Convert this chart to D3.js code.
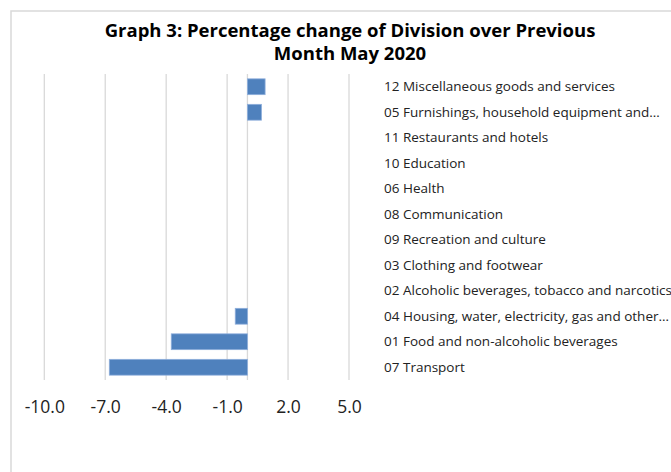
<!DOCTYPE html>
<html>
<head>
<meta charset="utf-8">
<script src="https://cdn.jsdelivr.net/npm/d3@7"></script>
<style>
    body { margin: 0; background: #fff; }
    svg { display: block; }
</style>
</head>
<body>
<div id="chart"></div>
<script>
// divisions, top to bottom as they appear in the chart
const divisions = [
    "12 Miscellaneous goods and services",
    "05 Furnishings, household equipment and\u2026",
    "11 Restaurants and hotels",
    "10 Education",
    "06 Health",
    "08 Communication",
    "09 Recreation and culture",
    "03 Clothing and footwear",
    "02 Alcoholic beverages, tobacco and narcotics",
    "04 Housing, water, electricity, gas and other\u2026",
    "01 Food and non-alcoholic beverages",
    "07 Transport"
];
// percentage change over previous month
const changes = [0.87, 0.69, 0, 0, 0, 0, 0, 0, 0, -0.6, -3.75, -6.8];
const xTicks = [-10, -7, -4, -1, 2, 5];
const titleLines = ["Graph 3: Percentage change of Division over Previous", "Month May 2020"];

const width = 671, height = 472;
const plot = {left: 44.3, right: 349, top: 74, bottom: 380};

const svg = d3.select("#chart").append("svg")
    .attr("width", width)
    .attr("height", height);

// chart frame
svg.append("rect")
    .attr("x", 11).attr("y", 11)
    .attr("width", width + 20).attr("height", height + 20)
    .attr("fill", "#fff")
    .attr("stroke", "#d9d9d9")
    .attr("stroke-width", 1.5);

// title
svg.append("g").selectAll("text")
    .data(titleLines)
    .join("text")
    .attr("x", 350)
    .attr("y", (d, i) => 36.5 + i * 23.5)
    .attr("text-anchor", "middle")
    .attr("font-family", "'Open Sans', sans-serif")
    .attr("font-weight", "bold")
    .attr("font-size", 18.5)
    .attr("fill", "#000")
    .text(d => d);

// scales
const x = d3.scaleLinear()
    .domain([-10, 5])
    .range([plot.left, plot.right]);

const y = d3.scaleBand()
    .domain(divisions)
    .range([plot.top, plot.bottom])
    .paddingInner(0.38)
    .paddingOuter(0.19);

// gridlines
svg.append("g")
    .selectAll("line")
    .data(xTicks)
    .join("line")
    .attr("x1", d => x(d)).attr("x2", d => x(d))
    .attr("y1", plot.top).attr("y2", plot.bottom)
    .attr("stroke", "#d9d9d9")
    .attr("stroke-width", 1.3);

// category axis at zero
svg.append("line")
    .attr("x1", x(0)).attr("x2", x(0))
    .attr("y1", plot.top).attr("y2", plot.bottom)
    .attr("stroke", "#d9d9d9")
    .attr("stroke-width", 1.3);

// bars
svg.append("g")
    .selectAll("rect")
    .data(divisions.map((d, i) => ({name: d, value: changes[i]})).filter(d => d.value !== 0))
    .join("rect")
    .attr("x", d => x(Math.min(0, d.value)))
    .attr("y", d => y(d.name))
    .attr("width", d => Math.abs(x(d.value) - x(0)))
    .attr("height", y.bandwidth())
    .attr("fill", "#4f81bd")
    .attr("stroke", "#8eaedb")
    .attr("stroke-width", 0.8);

// value axis labels
const xAxis = svg.append("g")
    .attr("transform", `translate(0, ${plot.bottom})`)
    .call(d3.axisBottom(x).tickValues(xTicks).tickFormat(d => d.toFixed(1)).tickSize(0).tickPadding(21));
xAxis.select(".domain").remove();
xAxis.selectAll("text")
    .attr("font-family", "'Open Sans', sans-serif")
    .attr("font-size", 17.5)
    .attr("fill", "#222");

// division labels on the right
const yAxis = svg.append("g")
    .attr("transform", `translate(384, 0)`)
    .call(d3.axisRight(y).tickSize(0).tickPadding(0));
yAxis.select(".domain").remove();
yAxis.selectAll("text")
    .attr("font-family", "'Open Sans', sans-serif")
    .attr("font-size", 13.5)
    .attr("fill", "#222");
</script>
</body>
</html>
